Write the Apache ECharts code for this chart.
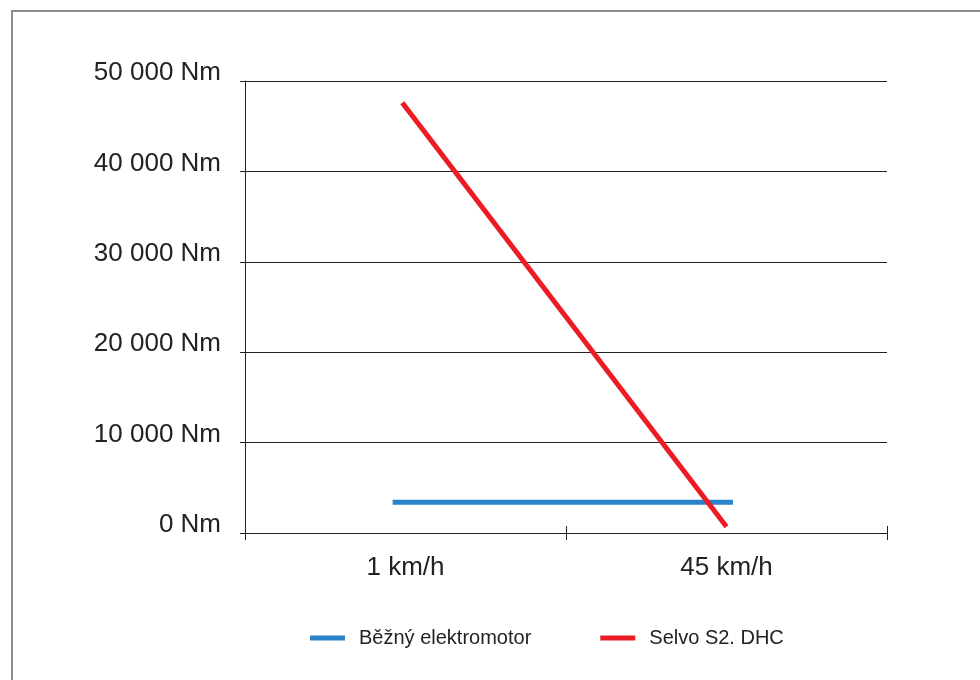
<!DOCTYPE html>
<html>
<head>
<meta charset="utf-8">
<script src="https://cdn.jsdelivr.net/npm/echarts@6/dist/echarts.min.js"></script>
<style>
  html, body { margin: 0; padding: 0; background: #ffffff; }
  #wrap { position: relative; width: 980px; height: 680px; overflow: hidden; }
  #frame { position: absolute; left: 11px; top: 10px; width: 1200px; height: 900px;
           border-top: 2px solid #8c8c8c; border-left: 2px solid #8c8c8c; }
  #chart { position: absolute; left: 0; top: 0; width: 980px; height: 680px; }
</style>
</head>
<body>
<div id="wrap">
  <div id="frame"></div>
  <div id="chart"></div>
</div>
<script>
// ---- data ----
const categories = ['1 km/h', '45 km/h'];
const yTickLabels = ['0 Nm', '10 000 Nm', '20 000 Nm', '30 000 Nm', '40 000 Nm', '50 000 Nm'];
const seriesNames = ['Běžný elektromotor', 'Selvo S2. DHC'];
// positions along the category scale (0..2, category centres at 0.5 and 1.5)
const blueX = [0.46, 1.52];
const blueY = [3400, 3400];
const redX = [0.49, 1.50];
const redY = [47600, 700];

const textColor = '#222222';
const lineColor = '#222222';

const chart = echarts.init(document.getElementById('chart'), null, { renderer: 'canvas' });

const toPairs = (xs, ys) => xs.map((x, i) => [x, ys[i]]);

const option = {
  animation: false,
  backgroundColor: 'transparent',
  textStyle: { fontFamily: '"Liberation Sans", Arial, Helvetica, sans-serif' },
  grid: { left: 245, right: 93, top: 81, bottom: 147, containLabel: false },
  legend: {
    left: 305,
    top: 623,
    itemWidth: 35,
    itemHeight: 5,
    itemGap: 69,
    icon: 'rect',
    textStyle: { color: textColor, fontSize: 20, padding: [0, 0, 0, 9] },
    data: seriesNames
  },
  xAxis: [
    {
      type: 'category',
      position: 'bottom',
      data: categories,
      boundaryGap: true,
      axisLine: { show: true, lineStyle: { color: lineColor, width: 1 } },
      axisTick: { show: true, inside: false, length: 7, lineStyle: { color: lineColor } },
      axisLabel: { color: textColor, fontSize: 26, margin: 22 },
      splitLine: { show: false }
    },
    {
      type: 'category',
      position: 'bottom',
      data: categories,
      boundaryGap: true,
      axisLine: { show: false },
      axisTick: { show: true, inside: true, length: 7, lineStyle: { color: lineColor } },
      axisLabel: { show: false },
      splitLine: { show: false }
    },
    {
      type: 'value',
      position: 'bottom',
      min: 0,
      max: 2,
      show: false
    }
  ],
  yAxis: {
    type: 'value',
    min: 0,
    max: 50000,
    interval: 10000,
    axisLine: { show: true, lineStyle: { color: lineColor, width: 1 } },
    axisTick: { show: true, length: 5, lineStyle: { color: lineColor } },
    axisLabel: {
      color: textColor,
      fontSize: 26,
      margin: 24,
      verticalAlign: 'bottom',
      lineHeight: 16,
      formatter: (v) => yTickLabels[Math.round(v / 10000)]
    },
    splitLine: { show: true, lineStyle: { color: lineColor, width: 1 } }
  },
  series: [
    {
      name: seriesNames[0],
      type: 'line',
      xAxisIndex: 2,
      data: toPairs(blueX, blueY),
      showSymbol: false,
      symbol: 'none',
      lineStyle: { color: '#2a82c8', width: 5 },
      itemStyle: { color: '#2a82c8' }
    },
    {
      name: seriesNames[1],
      type: 'line',
      xAxisIndex: 2,
      data: toPairs(redX, redY),
      showSymbol: false,
      symbol: 'none',
      lineStyle: { color: '#ec1c24', width: 5 },
      itemStyle: { color: '#ec1c24' }
    }
  ]
};

chart.setOption(option);
</script>
</body>
</html>
